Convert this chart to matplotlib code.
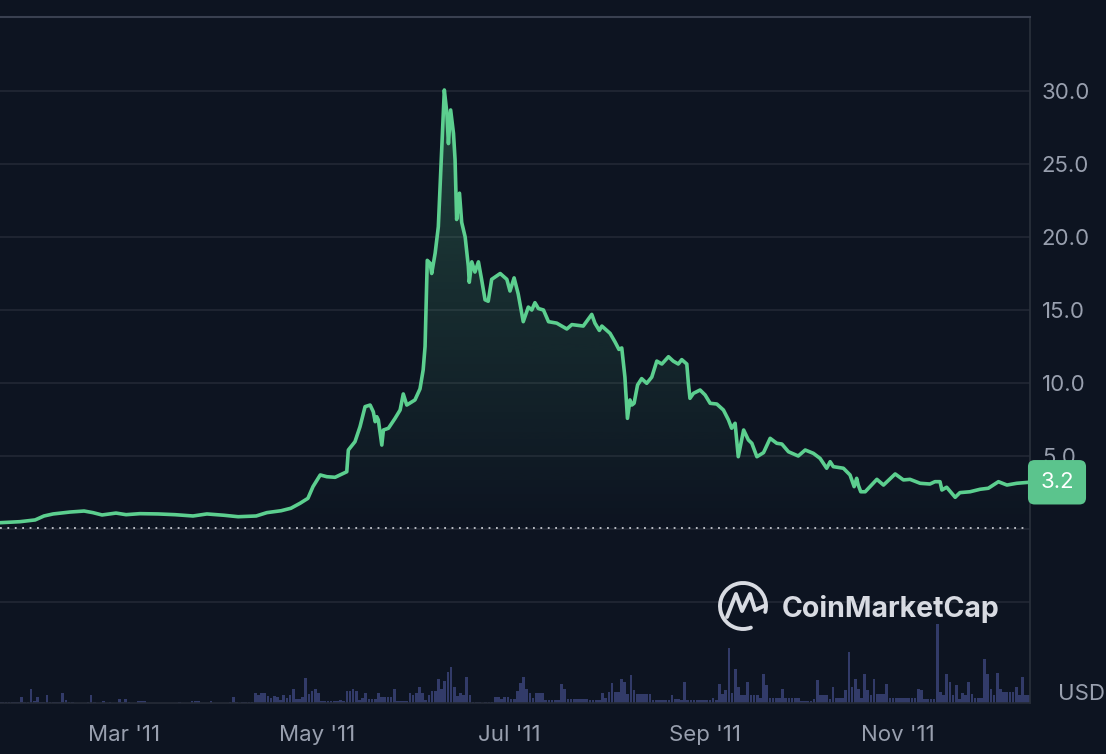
import numpy as np
import matplotlib
matplotlib.use("Agg")
import matplotlib.pyplot as plt
import matplotlib.dates as mdates
from matplotlib.patches import PathPatch, Arc
from matplotlib.transforms import Affine2D
from matplotlib.lines import Line2D
from matplotlib.colors import to_rgb

# price readings: day of 2011 (0 = 1 Jan) and price in USD
price_day = [19.6, 25.9, 30.7, 33.5, 36.4, 41.7, 46.2, 49.0, 51.9, 56.3, 59.5, 63.9, 69.6, 75.0,
             80.7, 85.1, 90.5, 95.0, 100.7, 104.1, 108.6, 111.7, 114.6, 117.1, 118.7, 121.0,
             123.1, 125.7, 129.4, 129.9, 132.0, 133.6, 135.2, 136.8, 137.8, 138.4, 138.9, 139.4,
             140.5, 141.0, 142.6, 144.7, 146.3, 147.3, 148.4, 151.0, 152.6, 153.6, 154.2, 154.9,
             155.8, 156.3, 157.4, 158.4, 159.5, 160.3, 161.1, 161.6, 162.3, 163.2, 163.7, 164.2,
             165.1, 165.8, 166.9, 167.9, 168.2, 169.0, 170.0, 171.1, 172.1, 173.2, 174.2, 175.3,
             178.0, 180.1, 181.1, 182.4, 183.7, 185.3, 186.9, 188.0, 189.0, 190.1, 191.7, 193.3,
             195.9, 199.1, 200.7, 204.3, 207.0, 208.0, 209.4, 210.2, 212.8, 214.4, 215.6, 216.5,
             217.5, 218.3, 219.1, 219.7, 220.4, 221.5, 222.8, 224.4, 226.0, 227.6, 229.2, 231.3,
             232.8, 234.4, 235.5, 237.1, 237.6, 238.1, 239.2, 241.3, 242.9, 244.5, 246.6, 248.7,
             250.3, 251.3, 252.4, 253.4, 255.1, 256.6, 257.7, 259.3, 261.4, 263.5, 265.6, 267.2,
             269.3, 272.4, 274.6, 277.2, 279.3, 281.4, 282.5, 283.5, 286.7, 288.8, 290.1, 290.9,
             291.4, 292.2, 293.6, 297.3, 299.4, 303.1, 305.7, 307.8, 311.0, 314.1, 315.7, 317.3,
             317.9, 319.4, 322.1, 323.6, 326.8, 330.0, 332.6, 335.8, 338.5, 341.6, 345.5]
price_usd = [0.43, 0.50, 0.62, 0.89, 1.03, 1.16, 1.23, 1.12, 0.96, 1.09, 0.98, 1.05, 1.03, 0.98,
             0.89, 1.03, 0.94, 0.84, 0.89, 1.12, 1.25, 1.42, 1.76, 2.10, 2.90, 3.70,
             3.58, 3.54, 3.92, 5.41, 5.98, 7.01, 8.38, 8.49, 8.03, 7.35, 7.69, 7.47,
             5.75, 6.78, 6.90, 7.58, 8.15, 9.25, 8.49, 8.84, 9.60, 10.9, 12.5, 18.4,
             18.2, 17.5, 18.9, 20.7, 26.2, 30.07, 28.5, 26.4, 28.7, 27.1, 25.3, 21.2,
             23.0, 21.0, 20.0, 18.0, 16.9, 18.3, 17.6, 18.3, 17.1, 15.7, 15.6, 17.1,
             17.5, 17.1, 16.3, 17.2, 16.1, 14.2, 15.2, 15.0, 15.5, 15.1, 15.0, 14.2,
             14.1, 13.7, 14.0, 13.9, 14.7, 14.1, 13.6, 13.9, 13.4, 12.8, 12.3, 12.4,
             10.4, 7.58, 8.84, 8.49, 8.61, 9.86, 10.3, 9.98, 10.4, 11.5, 11.3, 11.8,
             11.5, 11.3, 11.6, 11.3, 9.98, 8.95, 9.29, 9.52, 9.18, 8.61, 8.56, 8.15,
             7.47, 6.90, 7.24, 4.95, 6.78, 6.10, 5.87, 4.95, 5.23, 6.21, 5.87, 5.82,
             5.29, 5.00, 5.41, 5.18, 4.84, 4.16, 4.61, 4.27, 4.16, 3.70, 2.90, 3.47,
             3.01, 2.55, 2.55, 3.40, 3.01, 3.77, 3.36, 3.40, 3.13, 3.08, 3.24, 3.24,
             2.67, 2.86, 2.17, 2.49, 2.55, 2.72, 2.79, 3.24, 3.01, 3.13, 3.20]

# daily volume (relative units), first bar on 20 Jan 2011
vol_first_day = 19
volume = [0.7, 0.7, 0.7, 0.7, 0.7, 0.7, 1.0, 5.7, 1.0, 0.7,
          14, 2, 5.7, 1, 0.7, 8.3, 1.3, 0.7, 0.7, 0.7,
          10, 3.3, 1, 0.7, 0.5, 0.5, 0.5, 0.5, 0.7, 8.3,
          0.7, 0.5, 0.5, 1.7, 0.5, 1, 0.5, 0.5, 4, 0.7,
          4, 0.7, 0.5, 0.5, 2.3, 2.3, 2.3, 0.5, 0.3, 0.3,
          0.3, 0.3, 0.3, 0.3, 0.3, 0.3, 0.5, 1.3, 0.5, 0.3,
          0.5, 2, 2, 2, 0.5, 0.3, 0.5, 1.7, 0.5, 0.3,
          0.3, 0.3, 0.5, 0.7, 5.7, 0.7, 0.5, 0.7, 1.3, 1.3,
          1.3, 10, 8, 10, 10, 6.7, 5, 6.7, 6, 3.3,
          8.3, 5, 8.3, 14, 4, 4, 5.7, 24.7, 9, 12.3,
          14, 10, 2.3, 2.3, 2, 2.3, 2.5, 2.3, 3.3, 2.3,
          12.3, 12.3, 14, 12.3, 3.3, 5, 10, 4, 4, 4,
          10, 5.7, 5.7, 5.7, 5.7, 14, 1.7, 1.7, 1.7, 1.7,
          10, 8, 10, 15.7, 10, 3.3, 8, 12.3, 12.3, 24,
          14, 22.3, 30.7, 36.3, 15.7, 7.3, 10, 8, 26.3, 8.3,
          1, 0.7, 0.7, 0.5, 0.7, 1, 1, 5.7, 5.7, 4.5,
          5.7, 5.7, 4, 4.3, 12, 20, 26, 14, 10, 5,
          10, 10, 10, 3.3, 3.3, 3.3, 3.3, 3.3, 18.7, 14,
          4.3, 4.3, 4.3, 4.3, 4.3, 4.3, 4.3, 3, 3, 3,
          3, 10, 5, 11, 20, 11, 11, 24.3, 21, 9.3,
          28.3, 12.7, 9.3, 9.3, 9.3, 9.3, 9.3, 3.3, 3.3, 3.3,
          3.3, 3.3, 3.3, 7.7, 4.3, 4.3, 3, 21, 2.7, 2.7,
          2.7, 2.7, 2.7, 2.7, 2.7, 2.7, 5.3, 3, 18.7, 9.3,
          13.3, 55, 10, 34.3, 16, 7.7, 7.7, 21, 7.7, 7.7,
          7.7, 5, 28.7, 17.7, 5.3, 5.3, 5.3, 5.3, 14.3, 5.3,
          5.3, 5.3, 5.3, 5.3, 2, 2, 2, 2.5, 4, 22.7,
          7.7, 7.7, 7.7, 4, 16, 5.3, 5.3, 5.3, 12.7, 51,
          16, 24.3, 14.3, 5, 28.7, 12.7, 8, 24.3, 9.3, 9.3,
          9.3, 18.7, 5.3, 5.3, 5.3, 5.3, 5.3, 5.3, 5.3, 5.3,
          5.3, 14.3, 12.7, 4.3, 4.3, 4.3, 4.3, 79, 11, 8,
          28.7, 21, 8, 17.7, 4.3, 10, 8, 21, 9.3, 5.3,
          5.3, 5.3, 44.3, 28.7, 14.3, 8, 30.3, 14.3, 11, 11,
          11, 11, 16, 8, 26, 7.7, 7.7]

ref_price = 0.1
last_label = "3.2"
y_ticks = [-5, 0, 5, 10, 15, 20, 25, 30]

BG = "#0d1421"
GREEN = "#5ccf8f"
GREY = "#989fae"
FS = 16
plt.rcParams["font.family"] = ["Inter", "DejaVu Sans"]

W, H = 1106, 754
fig = plt.figure(figsize=(W / 100, H / 100), dpi=100, facecolor=BG)
rect = [0, 51 / H, 1030 / W, 686 / H]
axv = fig.add_axes(rect)
ax = fig.add_axes(rect)
ax.set_facecolor("none")
axv.set_facecolor(BG)

t0 = mdates.datestr2num("2011-01-01")
x = t0 + np.array(price_day)
y = np.array(price_usd)
xlim = (t0 + 19.57, t0 + 345.8)

# volume bars
vx = t0 + vol_first_day + np.arange(len(volume))
axv.bar(vx, volume, width=0.85, align="edge", color="#323b69", linewidth=0)
axv.set_xlim(xlim)
axv.set_ylim(0, 686)
axv.axis("off")

# gradient under the price line
grad = np.zeros((256, 1, 4))
grad[..., :3] = to_rgb(GREEN)
grad[..., 3] = np.linspace(0, 0.25, 256).reshape(-1, 1)
im = ax.imshow(grad, extent=[xlim[0], xlim[1], 0, 30], origin="lower",
               aspect="auto", zorder=1, interpolation="bilinear")
poly = ax.fill_between(x, y, ref_price, color="none", linewidth=0)
clip = PathPatch(poly.get_paths()[0], transform=ax.transData, fc="none", ec="none")
im.set_clip_path(clip)

ax.plot(x, y, color=GREEN, lw=2.6, solid_joinstyle="round", solid_capstyle="round", zorder=3)
ax.axhline(ref_price, xmax=0.994, color="#c6c9d0", lw=1.3, ls=(0, (1, 3.1)), zorder=2)

ax.set_xlim(xlim)
ax.set_ylim(-11.92, 35.07)

ax.set_yticks(y_ticks)
ax.set_yticklabels(["" if v <= 0 else f"{v:.1f}" for v in y_ticks])
ax.yaxis.tick_right()
ax.yaxis.grid(True, color="#222835", lw=1.2)
ax.set_axisbelow(True)
ax.xaxis.set_major_locator(mdates.MonthLocator(bymonth=[3, 5, 7, 9, 11]))
ax.xaxis.set_major_formatter(mdates.DateFormatter("%b '%y"))
ax.tick_params(axis="y", length=0, pad=8.5, labelsize=FS, labelcolor=GREY)
ax.tick_params(axis="x", length=0, pad=15.5, labelsize=FS, labelcolor=GREY)

ax.spines["left"].set_visible(False)
ax.spines["top"].set_color("#394050")
ax.spines["top"].set_linewidth(1.5)
ax.spines["right"].set_color("#2a313c")
ax.spines["right"].set_linewidth(1.2)
ax.spines["bottom"].set_color("#262c37")
ax.spines["bottom"].set_linewidth(1.2)

# last price badge
ax.annotate(last_label, xy=(1, price_usd[-1]), xycoords=("axes fraction", "data"),
            xytext=(27, 0), textcoords="offset pixels", ha="center", va="center",
            fontsize=FS, color="white", zorder=10, annotation_clip=False,
            bbox=dict(boxstyle="round,pad=0.55,rounding_size=0.3", fc="#5bc48d", ec="none"))

fig.text(1058 / W, 1 - 694 / H, "USD", color=GREY, fontsize=FS, va="center", ha="left")

# watermark
pix = Affine2D().scale(1 / W, -1 / H).translate(0, 1) + fig.transFigure
wm = "#d8dbe2"
fig.patches.append(Arc((743, 606), 46, 46, theta1=70, theta2=15, transform=pix,
                       color=wm, lw=2.8, capstyle="round"))
fig.lines.append(Line2D([727, 736, 742, 750, 755, 764], [617, 594, 611, 594, 610, 606],
                        transform=pix, color=wm, lw=2.8, solid_capstyle="round",
                        solid_joinstyle="round"))
fig.text(782 / W, 1 - 617 / H, "CoinMarketCap", color=wm, fontsize=20.5,
         fontweight="bold", va="baseline", ha="left")

fig.savefig("out.png", dpi=100, facecolor=BG)
